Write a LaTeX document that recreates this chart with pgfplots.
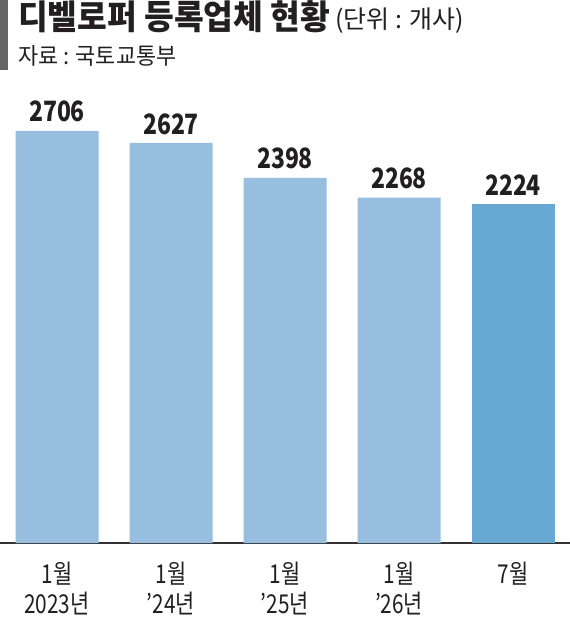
\documentclass[border=0pt]{standalone}
\usepackage{pgfplots}
\pgfplotsset{compat=1.18}
\usepackage{fontspec}
\setmainfont{Noto Sans CJK KR}
\newfontfamily\kr[FakeStretch=0.95]{Noto Sans CJK KR}
\newfontfamily\krn{Noto Sans CJK KR}
\newfontfamily\num[FakeStretch=0.82]{Noto Sans CJK KR}
\newfontfamily\lab[FakeStretch=0.8]{Noto Sans CJK KR}
\definecolor{barL}{HTML}{97BEDE}
\definecolor{barD}{HTML}{67A9D2}
\definecolor{txt}{HTML}{231F20}
\begin{document}
\begin{tikzpicture}[x=1pt,y=1pt]
\useasboundingbox (0,0) rectangle (570,621);
\fill[black!60] (0,551) rectangle (8,621);
\node[anchor=base west, inner sep=0, text=txt] at (18,591) {\kr\fontsize{34}{34}\selectfont\bfseries 디벨로퍼 등록업체 현황};
\node[anchor=base west, inner sep=0, text=txt] at (335,592) {\krn\fontsize{25}{25}\selectfont (단위 : 개사)};
\node[anchor=base west, inner sep=0, text=txt] at (18,556) {\kr\fontsize{23}{23}\selectfont 자료 : 국토교통부};
\begin{axis}[
  at={(0pt,78pt)}, anchor=south west,
  scale only axis, width=570pt, height=466pt,
  xmin=-0.5, xmax=4.5, ymin=0, ymax=3060,
  axis x line*=bottom, axis y line=none,
  x axis line style={line width=1.5pt, draw=black!80},
  xtick={0,1,2,3,4},
  xticklabels={{1월\\2023년},{1월\\’24년},{1월\\’25년},{1월\\’26년},{7월}},
  major tick length=0pt,
  xticklabel style={align=center, text=txt, font=\lab\fontsize{26}{30}\selectfont, anchor=north, yshift=-15pt},
  ybar, bar width=83pt,
  clip=false,
  nodes near coords,
  /pgf/number format/.cd, fixed, precision=0, 1000 sep={}, assume math mode=true, /pgfplots/.cd,
  every node near coord/.append style={text=txt, font=\num\bfseries\fontsize{28}{28}\selectfont, yshift=5pt},
]
\addplot[fill=barL, draw=none, bar shift=0pt] coordinates {(0,2706) (1,2627) (2,2398) (3,2268)};
\addplot[fill=barD, draw=none, bar shift=0pt] coordinates {(4,2224)};
\end{axis}
\end{tikzpicture}
\end{document}
